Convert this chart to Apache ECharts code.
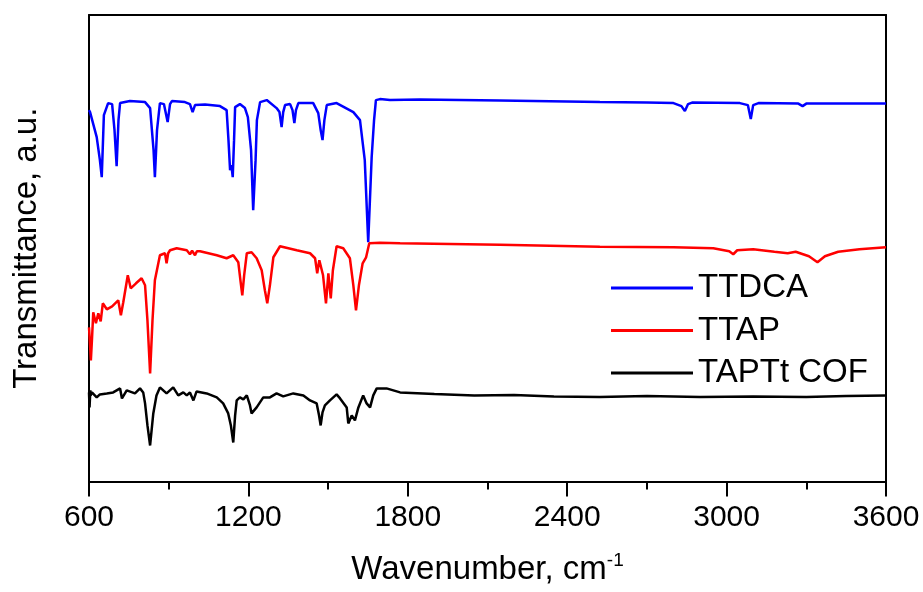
<!DOCTYPE html>
<html>
<head>
<meta charset="utf-8">
<script src="https://cdn.jsdelivr.net/npm/echarts@6/dist/echarts.min.js"></script>
<style>
html,body{margin:0;padding:0;background:#fff;}
#chart{width:923px;height:592px;}
</style>
</head>
<body>
<div id="chart"></div>
<script>
// Wavenumber (cm-1) and transmittance (a.u., offset traces)
var ttdcaWn = [600,604,629,641,648,656,672,687,696,704,711,717,754,811,830,843,848,856,867,882,896,905,912,961,980,990,999,1037,1093,1118,1125,1131,1136,1141,1146,1150,1168,1187,1198,1210,1218,1227,1232,1244,1269,1306,1317,1325,1331,1338,1357,1366,1373,1379,1388,1444,1463,1472,1479,1486,1495,1532,1595,1620,1638,1651,1664,1673,1680,1695,1733,1846,2147,2523,2700,2800,2830,2843,2855,2870,3050,3080,3091,3100,3120,3270,3286,3300,3450,3600];
var ttdcaT  = [371,369,344,321,304,366,378,377,351,315,361,378,380,379,373,331,304,351,378,377,359,377,380,379,377,369,376,376.5,375,371,341,311,316,304,341,374,377,373,364,331,271,321,361,379,381,373,369,354,369,376,377,371,358,371,378,378,368,351,341,361,376,378,369,361,321,239,324,361,381,382,381,381.5,380.5,379,378.5,378,375,370,377,378.5,378,376,362,376,378,377.5,375,377.5,377.5,377.5];

var ttapWn = [600,604,607,611,616,626,635,644,652,667,687,710,720,729,746,757,777,798,811,820,830,839,848,867,886,892,898,905,930,968,980,988,999,1006,1018,1081,1118,1143,1162,1170,1177,1184,1194,1212,1231,1250,1262,1271,1281,1294,1319,1382,1432,1451,1459,1467,1481,1492,1501,1510,1518,1532,1557,1582,1595,1605,1616,1630,1643,1655,1695,1771,2147,2523,2800,2950,3010,3025,3040,3100,3180,3230,3260,3310,3342,3370,3420,3500,3600];
var ttapT  = [154,136,121,141,169,158,168,160,178,172,175,181,166,179,206,193,198,203,196,161,108,161,201,226,228,218,228,231,233,231,227,230.5,226,230,230,226,223,226,219,201,186,206,228,229,223,211,191,178,196,224,235,231,228,223,208,221,206,178,208,183,211,235,233,223,196,171,196,218,224,238,238.5,238,236.5,234.5,234,233,230,227,231,232,229.5,228,229.5,225,219,225,229.5,232,234];

var cofWn = [600,602,605,606,611,629,641,667,691,717,724,742,773,792,804,811,820,830,842,854,867,892,917,936,955,968,980,993,1005,1043,1081,1105,1124,1134,1143,1150,1156,1168,1181,1194,1206,1212,1231,1256,1281,1306,1331,1369,1407,1432,1457,1466,1472,1479,1488,1507,1532,1545,1570,1576,1589,1601,1614,1632,1645,1658,1670,1683,1720,1771,1900,2050,2200,2350,2523,2700,2900,3100,3300,3450,3600];
var cofT  = [89,74,91,86,89,84,87,88,89,93,83,91,88,93,89,78,56,36,68,86,94,88,94,86,89,86,89,81,90,88,84,78,68,56,39,66,81,84,82,86,76,68,74,84,84,88,85,88,86,81,78,66,56,69,76,81,87,83,74,58,66,61,74,86,78,74,86,93,93,89,87.5,86,86.5,85,84.5,85.5,84.5,85,84.5,85.5,86];

var seriesNames = ['TTDCA','TTAP','TAPTt COF'];
var xTicks = [600,1200,1800,2400,3000,3600];

function pairs(xs, ys){ return xs.map(function(x,i){ return [x, ys[i]]; }); }

var FONT = 'Arial, "Liberation Sans", Helvetica, sans-serif';
var chart = echarts.init(document.getElementById('chart'), null, {renderer:'canvas'});
var axisLine = {show:true, onZero:false, lineStyle:{color:'#000', width:2}};

chart.setOption({
  animation:false,
  backgroundColor:'#fff',
  grid:{left:89, right:37, top:15, bottom:110.5, containLabel:false},
  legend:{
    orient:'vertical', left:606, top:266,
    icon:'rect', itemWidth:82, itemHeight:3, itemGap:8.5,
    textStyle:{fontFamily:FONT, fontSize:33, color:'#000', lineHeight:34, padding:[0,0,0,0]},
    data:seriesNames
  },
  xAxis:[{
    type:'value', min:xTicks[0], max:xTicks[xTicks.length-1], interval:600,
    position:'bottom',
    axisLine:axisLine,
    axisTick:{show:true, inside:false, length:15, lineStyle:{color:'#000', width:2}},
    minorTick:{show:true, splitNumber:2, length:8, lineStyle:{color:'#000', width:2}},
    axisLabel:{show:true, margin:21, fontFamily:FONT, fontSize:30, color:'#000',
      formatter:function(v){ return String(v); }},
    splitLine:{show:false}, minorSplitLine:{show:false},
    name:'{a|Wavenumber, cm}{s|-1}', nameLocation:'middle', nameGap:70,
    nameTextStyle:{rich:{
      a:{fontFamily:FONT, fontSize:33, color:'#000'},
      s:{fontFamily:FONT, fontSize:19, color:'#000', padding:[0,0,18,0]}
    }}
  },{
    type:'value', min:600, max:3600, position:'top',
    axisLine:axisLine, axisTick:{show:false}, axisLabel:{show:false}, splitLine:{show:false}
  }],
  yAxis:[{
    type:'value', min:0, max:466, position:'left',
    axisLine:axisLine, axisTick:{show:false}, axisLabel:{show:false}, splitLine:{show:false},
    name:'Transmittance, a.u.', nameLocation:'middle', nameGap:46,
    nameTextStyle:{fontFamily:FONT, fontSize:33, color:'#000'}
  },{
    type:'value', min:0, max:466, position:'right',
    axisLine:axisLine, axisTick:{show:false}, axisLabel:{show:false}, splitLine:{show:false}
  }],
  series:[
    {name:seriesNames[0], type:'line', symbol:'none', data:pairs(ttdcaWn, ttdcaT), color:'#0000ff', lineStyle:{color:'#0000ff', width:2.5}},
    {name:seriesNames[1], type:'line', symbol:'none', data:pairs(ttapWn, ttapT), color:'#ff0000', lineStyle:{color:'#ff0000', width:2.5}},
    {name:seriesNames[2], type:'line', symbol:'none', data:pairs(cofWn, cofT), color:'#000000', lineStyle:{color:'#000000', width:2.5}}
  ]
});
</script>
</body>
</html>
